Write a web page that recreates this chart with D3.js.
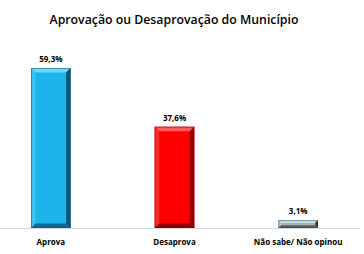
<!DOCTYPE html>
<head>
    <meta charset="utf-8">
    <script src="https://d3js.org/d3.v7.min.js"></script>
    <style>
        body { margin: 0; background: #fff; }
        text { font-family: "Open Sans", sans-serif; fill: #000; }
    </style>
</head>
<body>
    <div id="chart"></div>
    <script>
        // chart data
        var categories = ["Aprova", "Desaprova", "Não sabe/ Não opinou"]
        var values = [59.3, 37.6, 3.1]
        var valueLabels = ["59,3%", "37,6%", "3,1%"]
        var title = "Aprovação ou Desaprovação do Município"

        // face, top, left, right, bottom, outline
        var palettes = [
            ["#1db4eb", "#6fd6f7", "#3cc4f2", "#0b5877", "#0e6a8e", "#0a4b66"],
            ["#ff0000", "#ff5a5a", "#ff2a2a", "#9a0000", "#8c0000", "#700000"],
            ["#a9b1b1", "#c6e6f3", "#b4dcec", "#34393c", "#5b6264", "#2e3436"]
        ]

        var W = 364, H = 254
        var baseline = 228.5

        var svg = d3.select("#chart").append("svg")
            .attr("width", W)
            .attr("height", H)

        svg.append("text")
            .attr("x", 174)
            .attr("y", 24)
            .attr("text-anchor", "middle")
            .attr("font-size", 12.3)
            .attr("font-weight", 600)
            .text(title)

        var x = d3.scaleBand()
            .domain(categories)
            .range([-11, 360])
            .paddingInner(0.68)
            .paddingOuter(0.34)

        var y = d3.scaleLinear()
            .domain([0, 59.3])
            .range([baseline, 68])

        // axis line
        svg.append("line")
            .attr("x1", 0).attr("x2", 360)
            .attr("y1", baseline).attr("y2", baseline)
            .attr("stroke", "#d9d9d9")
            .attr("stroke-width", 1)

        var bars = svg.selectAll(".bar")
            .data(values)
            .enter().append("g")
            .attr("class", "bar")

        bars.each(function(d, i) {
            var g = d3.select(this)
            var x0 = x(categories[i]), x1 = x0 + x.bandwidth()
            var y0 = y(d), y1 = y(0) - 0.5
            var b = Math.min(4.5, (y1 - y0) / 3)
            var p = palettes[i]
            g.append("rect")
                .attr("x", x0).attr("y", y0)
                .attr("width", x1 - x0).attr("height", y1 - y0)
                .attr("fill", p[0])
            var pts = function(a) { return a.map(function(q) { return q.join(",") }).join(" ") }
            // top bevel
            g.append("polygon").attr("fill", p[1])
                .attr("points", pts([[x0, y0], [x1, y0], [x1 - b, y0 + b], [x0 + b, y0 + b]]))
            // left bevel
            g.append("polygon").attr("fill", p[2])
                .attr("points", pts([[x0, y0], [x0 + b, y0 + b], [x0 + b, y1 - b], [x0, y1]]))
            // right bevel
            g.append("polygon").attr("fill", p[3])
                .attr("points", pts([[x1, y0], [x1, y1], [x1 - b, y1 - b], [x1 - b, y0 + b]]))
            // bottom bevel
            g.append("polygon").attr("fill", p[4])
                .attr("points", pts([[x0, y1], [x0 + b, y1 - b], [x1 - b, y1 - b], [x1, y1]]))
            g.append("rect")
                .attr("x", x0 + 0.5).attr("y", y0 + 0.5)
                .attr("width", x1 - x0 - 1).attr("height", y1 - y0 - 1)
                .attr("fill", "none")
                .attr("stroke", p[5])
                .attr("stroke-opacity", 0.5)
                .attr("stroke-width", 1)
        })

        // value labels
        svg.selectAll(".val")
            .data(values)
            .enter().append("text")
            .attr("class", "val")
            .attr("x", function(d, i) { return x(categories[i]) + x.bandwidth() / 2 })
            .attr("y", function(d) { return y(d) - 6 })
            .attr("text-anchor", "middle")
            .attr("font-size", 8)
            .attr("font-weight", 700)
            .text(function(d, i) { return valueLabels[i] })

        // category labels
        svg.selectAll(".cat")
            .data(categories)
            .enter().append("text")
            .attr("class", "cat")
            .attr("x", function(d) { return x(d) + x.bandwidth() / 2 })
            .attr("y", 245)
            .attr("text-anchor", "middle")
            .attr("font-size", 8)
            .attr("font-weight", 700)
            .text(function(d) { return d })
    </script>
</body>
</html>
